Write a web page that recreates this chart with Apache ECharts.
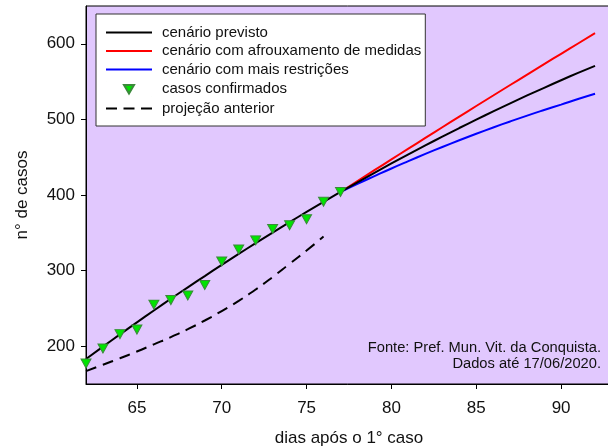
<!DOCTYPE html>
<html>
<head>
<meta charset="utf-8">
<script src="https://cdn.jsdelivr.net/npm/echarts@6/dist/echarts.min.js"></script>
<style>
html,body{margin:0;padding:0;background:#fff;}
#c{width:608px;height:448px;}
</style>
</head>
<body>
<div id="c"></div>
<script>
// days after first case
const daysPrevisto = [62,63,64,65,66,67,68,69,70,71,72,73,74,75,76,77,78,79,80,81,82,83,84,85,86,87,88,89,90,91,92];
const previsto = [183,199.4,215.6,231.5,247.2,262.7,277.9,292.8,307.6,322.1,336.3,350.3,364.1,377.6,390.9,404,416.8,429.3,441.7,453.8,465.6,477.2,488.6,499.7,510.6,521.3,531.7,541.8,551.8,561.5,570.9];
const daysCenario = [77,78,79,80,81,82,83,84,85,86,87,88,89,90,91,92];
const afrouxamento = [404,418.4,432.8,447.1,461.3,475.5,489.6,503.7,517.7,531.6,545.5,559.3,573.1,586.8,600.4,614];
const restricoes = [404,414.7,425,435.1,444.8,454.3,463.5,472.4,481,489.3,497.3,505,512.4,519.6,527,534];
const daysConfirmados = [62,63,64,65,66,67,68,69,70,71,72,73,74,75,76,77];
const confirmados = [177,197,216,222,255,261,267,281,312,328,340,355,360,368,391,404];
const daysAnterior = [62,63,64,65,66,67,68,69,70,71,72,73,74,75,76];
const anterior = [167,175.5,184,193,202.5,212,222.5,234,246.5,260,275,291.5,309,326.5,345];
const xTicks = [65,70,75,80,85,90];
const yTicks = [200,300,400,500,600];

const names = ['cenário previsto','cenário com afrouxamento de medidas','cenário com mais restrições','casos confirmados','projeção anterior'];
const pair = (xs, ys) => xs.map((x,i)=>[x, ys[i]]);
const FONT = '"Liberation Sans", Arial, sans-serif';

const ICON_LINE = 'path://M0,0H46V2H0Z';
const ICON_DASH = 'path://M0,0H11V2H0Z M17.5,0H28.5V2H17.5Z M35,0H46V2H35Z';
const ICON_TRI = 'path://M0,0L0.01,0M46,15L45.99,15M18,3.5L28,3.5L23,12Z';

const chart = echarts.init(document.getElementById('c'), null, {renderer:'canvas'});
chart.setOption({
  animation:false,
  textStyle:{fontFamily:FONT},
  grid:{left:86, top:6, width:526, height:378, containLabel:false, outerBoundsMode:'none', show:true, backgroundColor:'#e1c8fe', borderColor:'#000', borderWidth:1},
  legend:{
    orient:'vertical', left:96, top:14,
    padding:[11,4,10,9],
    backgroundColor:'#fff', borderColor:'#333', borderWidth:1,
    itemWidth:46, itemHeight:15, itemGap:3.5,
    symbolKeepAspect:true,
    textStyle:{fontSize:15, color:'#111', fontFamily:FONT, lineHeight:15, padding:[0,0,0,5]},
    data:[
      {name:names[0], icon:ICON_LINE},
      {name:names[1], icon:ICON_LINE},
      {name:names[2], icon:ICON_LINE},
      {name:names[3], icon:ICON_TRI},
      {name:names[4], icon:ICON_DASH}
    ]
  },
  xAxis:{
    type:'value', min:62, max:93,
    name:'dias após o 1° caso', nameLocation:'middle', nameGap:46,
    nameTextStyle:{fontSize:17, color:'#111', fontFamily:FONT},
    axisLine:{show:true, lineStyle:{color:'#000', width:1}},
    axisTick:{show:true, length:5, inside:false, customValues:xTicks, lineStyle:{color:'#000'}},
    axisLabel:{fontSize:17, color:'#111', margin:16, customValues:xTicks, fontFamily:FONT},
    splitLine:{show:false}
  },
  yAxis:{
    type:'value', min:150, max:650,
    name:'n° de casos', nameLocation:'middle', nameGap:55, nameRotate:90,
    nameTextStyle:{fontSize:17, color:'#111', fontFamily:FONT},
    axisLine:{show:true, lineStyle:{color:'#000', width:1}},
    axisTick:{show:true, length:5, inside:false, customValues:yTicks, lineStyle:{color:'#000'}},
    axisLabel:{fontSize:17, color:'#111', margin:11, customValues:yTicks, fontFamily:FONT},
    splitLine:{show:false}
  },
  series:[
    {name:names[0], type:'line', data:pair(daysPrevisto, previsto), smooth:true, showSymbol:false, symbol:'none', lineStyle:{color:'#000', width:2}, itemStyle:{color:'#000'}, z:3},
    {name:names[1], type:'line', data:pair(daysCenario, afrouxamento), smooth:true, showSymbol:false, symbol:'none', lineStyle:{color:'#ff0000', width:2}, itemStyle:{color:'#ff0000'}, z:2},
    {name:names[2], type:'line', data:pair(daysCenario, restricoes), smooth:true, showSymbol:false, symbol:'none', lineStyle:{color:'#0000ff', width:2}, itemStyle:{color:'#0000ff'}, z:2},
    {name:names[3], type:'scatter', data:pair(daysConfirmados, confirmados), symbol:'triangle', symbolRotate:180, symbolSize:[10,9], itemStyle:{color:'#00e400', borderColor:'#3a8a3a', borderWidth:1, opacity:1}, z:5},
    {name:names[4], type:'line', data:pair(daysAnterior, anterior), smooth:true, showSymbol:false, symbol:'none', lineStyle:{color:'#000', width:2, type:[11,7]}, itemStyle:{color:'#000'}, z:3}
  ],
  graphic:[
    {type:'text', x:601, y:340, style:{text:'Fonte: Pref. Mun. Vit. da Conquista.\nDados até 17/06/2020.', font:'14.7px '+FONT, fill:'#111', align:'right', lineHeight:16}}
  ]
});
</script>
</body>
</html>
